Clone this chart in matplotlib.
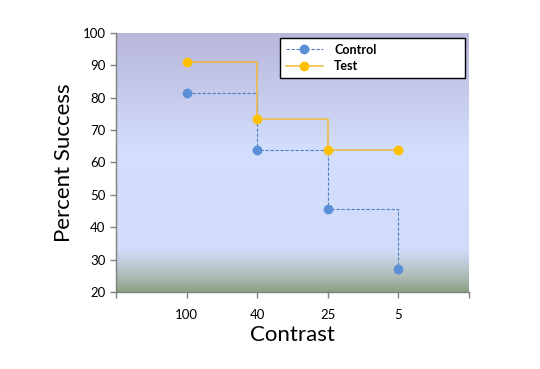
import numpy as np
import matplotlib
matplotlib.use("Agg")
import matplotlib.pyplot as plt
from matplotlib.colors import LinearSegmentedColormap
from matplotlib.lines import Line2D

plt.rcParams['font.family'] = ['Lato', 'DejaVu Sans']

categories = ["100", "40", "25", "5"]
control = [81.5, 64, 45.5, 27]
test = [91, 73.3, 63.8, 63.8]

fig = plt.figure(figsize=(5.4, 3.69), dpi=100)
ax = fig.add_axes([0.2148, 0.2087, 0.6537, 0.7019])

# gradient background
cmap = LinearSegmentedColormap.from_list("bg", [
    (0.0, (0.55, 0.63, 0.52)),
    (0.06, (0.68, 0.74, 0.72)),
    (0.16, (0.82, 0.86, 0.98)),
    (0.55, (0.83, 0.87, 0.99)),
    (0.75, (0.78, 0.80, 0.93)),
    (1.0, (0.72, 0.72, 0.86)),
])
grad = np.linspace(0, 1, 256).reshape(-1, 1)
ax.imshow(grad, extent=[0, 5, 20, 100], origin='lower', aspect='auto', cmap=cmap, zorder=0)

x = np.arange(1, len(categories) + 1)
ax.plot(x, control, drawstyle='steps-post', color='#4F7FC0', linestyle='--', linewidth=0.8,
        dashes=(3, 1.5), zorder=2)
ax.plot(x, control, linestyle='none', marker='o', color='#5B8FD6', markersize=6, zorder=3)
ax.plot(x, test, drawstyle='steps-post', color='#F2B83A', linewidth=1.1, zorder=2)
ax.plot(x, test, linestyle='none', marker='o', color='#FFC000', markersize=6, zorder=3)

h1 = Line2D([], [], color='#4F7FC0', linestyle='--', dashes=(3, 1.5), linewidth=0.8,
            marker='o', markerfacecolor='#5B8FD6', markeredgecolor='#5B8FD6', markersize=6)
h2 = Line2D([], [], color='#F2B83A', linewidth=1.1, marker='o',
            markerfacecolor='#FFC000', markeredgecolor='#FFC000', markersize=6)
leg = ax.legend([h1, h2], ["Control", "Test"], loc='upper left',
                bbox_to_anchor=(0.4646, 0.9807, 0.524, 0.0), mode='expand',
                frameon=True, fancybox=False, edgecolor='black', framealpha=1,
                prop={'weight': 'bold', 'size': 9}, borderpad=0.45, labelspacing=0.35,
                handlelength=3.0, handletextpad=0.9, borderaxespad=0)
leg.get_frame().set_linewidth(1.0)

ax.set_xlim(0, 5)
ax.set_ylim(20, 100)
ax.set_xticks(np.arange(0, 6))
ax.set_xticklabels([""] + categories + [""])
ax.set_yticks(np.arange(20, 101, 10))
for s in ['top', 'right']:
    ax.spines[s].set_visible(False)
for s in ['left', 'bottom']:
    ax.spines[s].set_color('#808080')
    ax.spines[s].set_linewidth(1.0)
ax.tick_params(axis='both', colors='#808080', labelcolor='black', labelsize=9.5, length=4, width=1)
ax.tick_params(axis='x', pad=8)
ax.set_xlabel("Contrast", fontsize=16, labelpad=3)
ax.set_ylabel("Percent Success", fontsize=16, labelpad=6)

fig.savefig("out.png", dpi=100)
